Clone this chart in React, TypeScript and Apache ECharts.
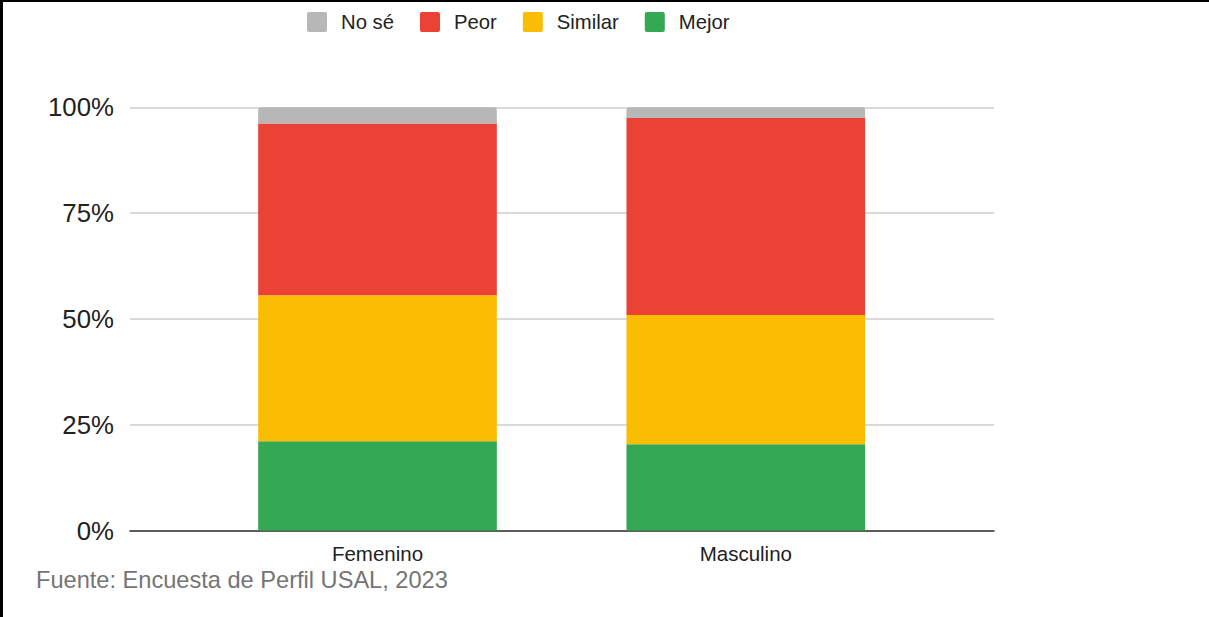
import React, { useEffect, useRef } from "react";
import * as echarts from "echarts";

const categories = ["Femenino", "Masculino"];
const legendOrder = ["No sé", "Peor", "Similar", "Mejor"];
const mejor = [21.1, 20.4];
const similar = [34.5, 30.5];
const peor = [40.6, 46.6];
const noSe = [3.8, 2.5];
const yTicks = [0, 25, 50, 75, 100];
const source = "Fuente: Encuesta de Perfil USAL, 2023";

const FONT = "'Liberation Sans', Arial, sans-serif";
const SQUARE_ICON =
  "path://M2,0 H18 Q20,0 20,2 V18 Q20,20 18,20 H2 Q0,20 0,18 V2 Q0,0 2,0 Z";

export default function App() {
  const ref = useRef<HTMLDivElement>(null);
  useEffect(() => {
    document.body.style.margin = "0";
    const chart = echarts.init(ref.current!, null, { renderer: "svg" });
    const top = 107.3;
    const bottom = 617 - 530.5;
    const barSeries = (name: string, data: number[], color: string, radius = false) => ({
      name,
      type: "bar",
      stack: "total",
      xAxisIndex: 1,
      yAxisIndex: 1,
      barWidth: "64.8%",
      data,
      itemStyle: { color, borderRadius: radius ? [3, 3, 0, 0] : 0 },
    });
    chart.setOption({
      animation: false,
      textStyle: { fontFamily: FONT },
      legend: {
        data: legendOrder,
        top: 7,
        left: 302,
        itemWidth: 20,
        itemHeight: 20,
        itemGap: 26,
        icon: SQUARE_ICON,
        textStyle: { fontSize: 20.3, color: "#222", fontFamily: FONT, padding: [0, 0, 0, 9] },
      },
      grid: [
        { left: 130, right: 1209 - 994, top, bottom },
        { left: 193.35, right: 1209 - 929.95, top, bottom },
      ],
      xAxis: [
        {
          type: "category",
          gridIndex: 0,
          data: categories,
          axisLabel: { show: false },
          axisTick: { show: false },
          axisLine: { show: true, lineStyle: { color: "#333", width: 1.5 } },
          splitLine: { show: false },
        },
        {
          type: "category",
          gridIndex: 1,
          data: categories,
          axisLine: { show: false },
          axisTick: { show: false },
          axisLabel: { fontSize: 20.5, color: "#222", margin: 12, fontFamily: FONT },
        },
      ],
      yAxis: [
        {
          type: "value",
          gridIndex: 0,
          min: 0,
          max: 100,
          interval: 25,
          axisLabel: {
            formatter: (v: number) => (yTicks.includes(v) ? v + "%" : ""),
            fontSize: 25.8,
            color: "#222",
            margin: 16,
            fontFamily: FONT,
          },
          axisLine: { show: false },
          axisTick: { show: false },
          splitLine: { lineStyle: { color: "#cccccc", width: 1.5 } },
        },
        {
          type: "value",
          gridIndex: 1,
          min: 0,
          max: 100,
          show: false,
          splitLine: { show: false },
        },
      ],
      series: [
        barSeries("Mejor", mejor, "#34a853"),
        barSeries("Similar", similar, "#fbbc04"),
        barSeries("Peor", peor, "#ea4335"),
        barSeries("No sé", noSe, "#b7b7b7", true),
      ],
      graphic: [
        { type: "rect", shape: { x: 0, y: 0, width: 1209, height: 2 }, style: { fill: "#000" } },
        { type: "rect", shape: { x: 0, y: 0, width: 3, height: 617 }, style: { fill: "#000" } },
        {
          type: "text",
          left: 36,
          top: 568,
          style: { text: source, fontSize: 23.6, fill: "#757575", fontFamily: FONT },
        },
      ],
    });
    return () => chart.dispose();
  }, []);
  return <div ref={ref} style={{ width: 1209, height: 617 }} />;
}
